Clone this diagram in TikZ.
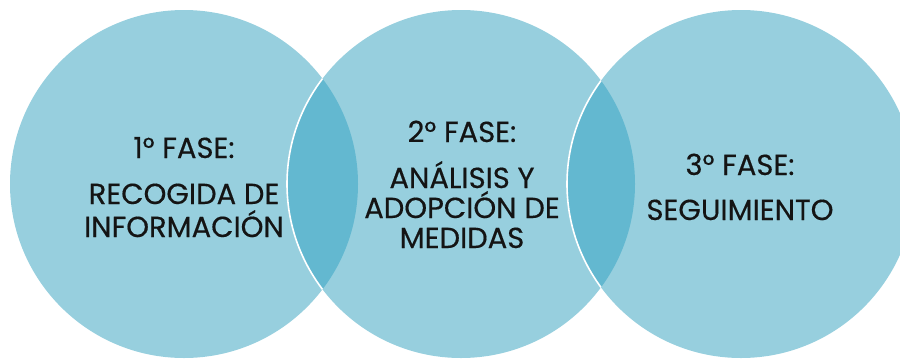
\documentclass[tikz,border=0pt]{standalone}
\usepackage{fontspec}
\setmainfont{Poppins}[FakeBold=0.4]
\definecolor{lightc}{HTML}{97CFDE}
\definecolor{lensc}{HTML}{63B8D0}
\definecolor{txt}{HTML}{141414}
\begin{document}
\begin{tikzpicture}[x=1pt,y=-1pt,
  phase/.style={fill=lightc,draw=none},
  lbl/.style={anchor=base,text=txt,font=\fontsize{29}{32}\selectfont,align=center,inner sep=0pt},
  rim/.style={draw=white,line width=1.6pt}]
\useasboundingbox (0,0) rectangle (900,360);
\clip (0,0) rectangle (900,360);
\def\R{174}
\coordinate (c1) at (184,184);
\coordinate (c2) at (461,184);
\coordinate (c3) at (741,184);
\fill[phase] (c1) circle[radius=\R];
\fill[phase] (c2) circle[radius=\R];
\fill[phase] (c3) circle[radius=\R];
\begin{scope}
  \clip (c1) circle[radius=\R];
  \fill[lensc] (c2) circle[radius=\R];
  \draw[rim] (c2) circle[radius=\R];
\end{scope}
\begin{scope}
  \clip (c2) circle[radius=\R];
  \fill[lensc] (c3) circle[radius=\R];
  \draw[rim] (c3) circle[radius=\R];
\end{scope}
\node[lbl] (t1) at (184,158) {1° FASE:};
\node[lbl] (b1) at (184,204) {RECOGIDA DE};
\node[lbl] (b1b) at (184,237) {INFORMACIÓN};
\node[lbl] (t2) at (462,142) {2° FASE:};
\node[lbl] (b2) at (462,188) {ANÁLISIS Y};
\node[lbl] (b2b) at (462,218) {ADOPCIÓN DE};
\node[lbl] (b2c) at (462,248) {MEDIDAS};
\node[lbl] (t3) at (740,175) {3° FASE:};
\node[lbl] (b3) at (740,220) {SEGUIMIENTO};
\end{tikzpicture}
\end{document}
